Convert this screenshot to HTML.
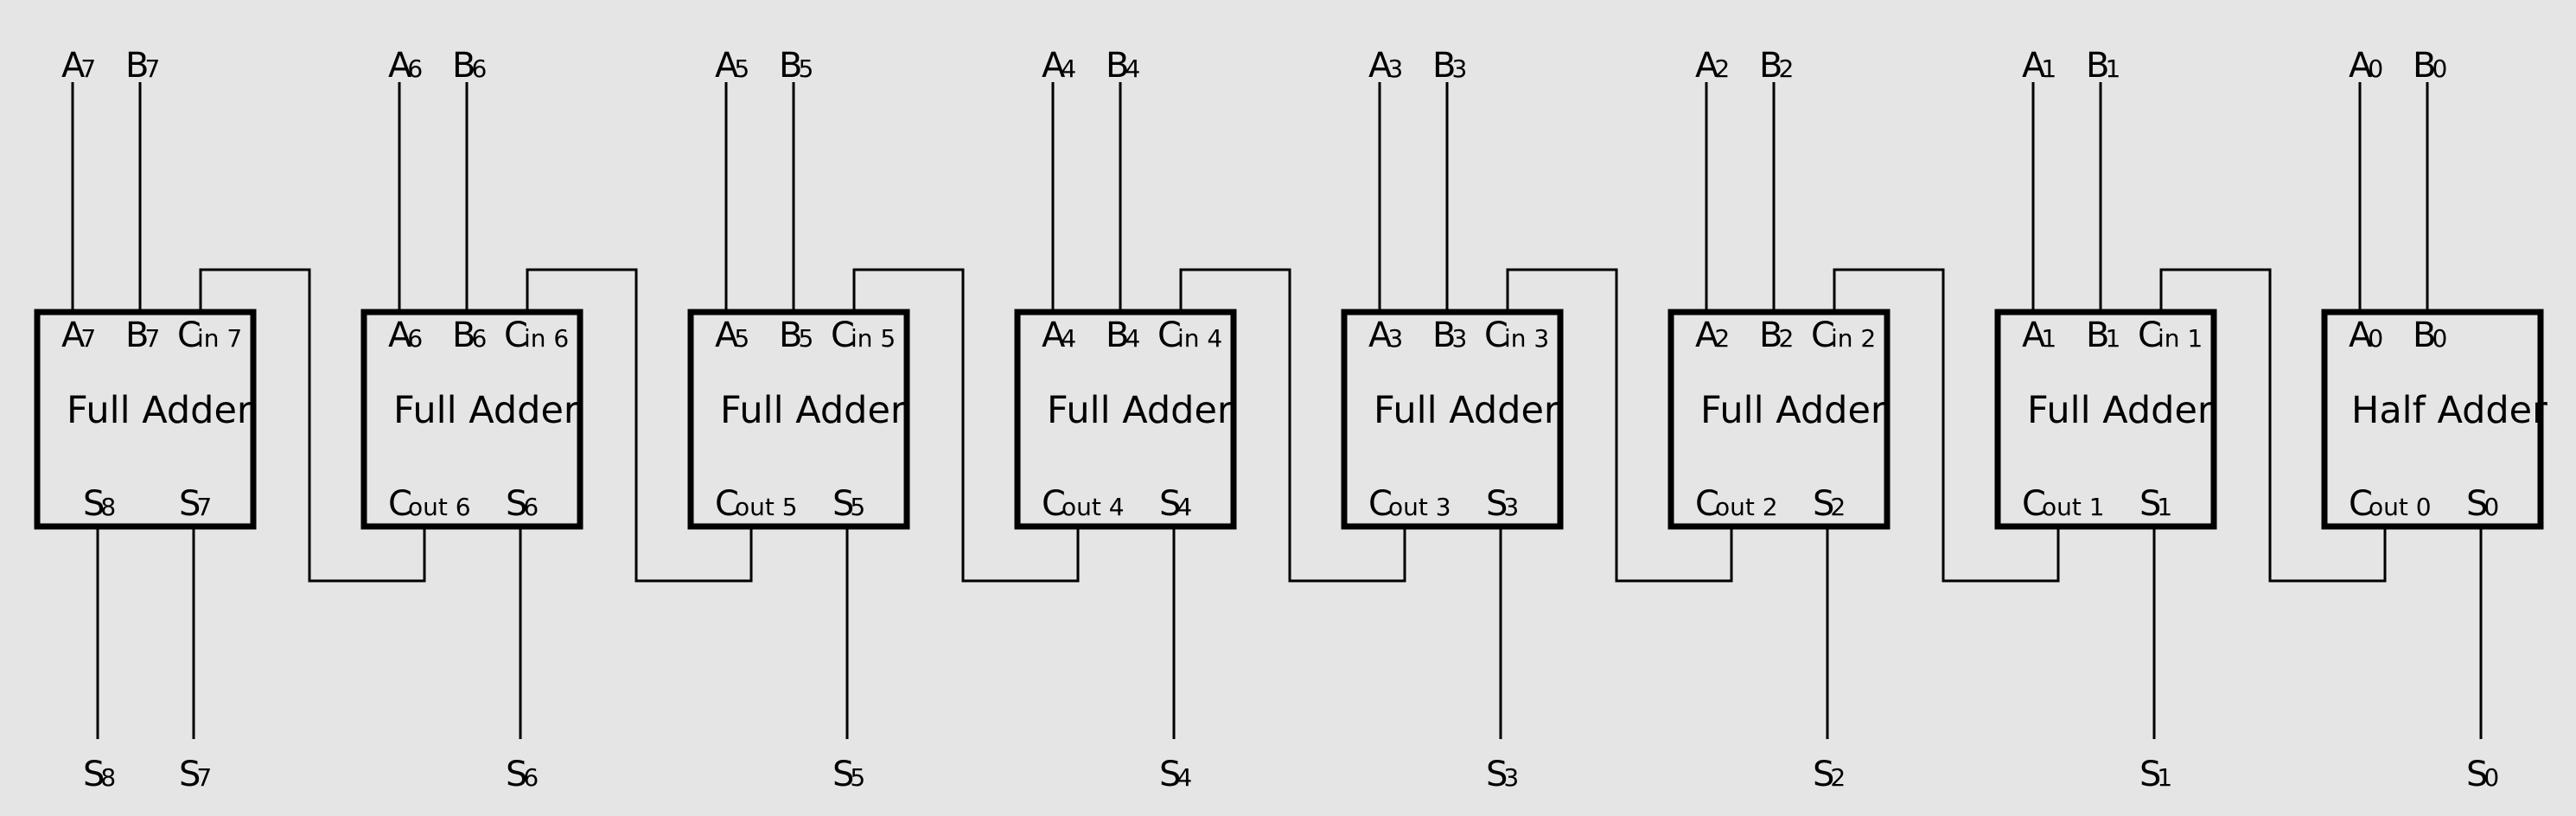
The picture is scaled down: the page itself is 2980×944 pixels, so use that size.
<!DOCTYPE html>
<html><head><meta charset="utf-8">
<style>
html,body{margin:0;padding:0;background:#e5e5e5;}
svg{display:block;}
text{font-family:"DejaVu Sans","Liberation Sans",sans-serif;fill:#000;}
</style></head>
<body>
<svg id="svg" width="2980" height="944" viewBox="0 0 2980 944" xmlns="http://www.w3.org/2000/svg">
<rect x="0" y="0" width="2980" height="944" fill="#e5e5e5"/>
</svg>
<script>
const bits = [7,6,5,4,3,2,1,0];
const adderTypes = ["Full Adder","Full Adder","Full Adder","Full Adder","Full Adder","Full Adder","Full Adder","Half Adder"];
const NS = "http://www.w3.org/2000/svg";
const svg = document.getElementById('svg');
const X0 = 40, PITCH = 378, BW = 256, BT = 358, BB = 612;
function mk(tag, attrs, parent){
  const e = document.createElementNS(NS, tag);
  for (const k in attrs) e.setAttribute(k, attrs[k]);
  (parent||svg).appendChild(e);
  return e;
}
function line(x1,y1,x2,y2,name,w){
  const e = mk('polyline',{points:x1+','+y1+' '+x2+','+y2,fill:'none',stroke:'#000','stroke-width':w||3});
  
  
  return e;
}
function label(x,y,main,sub,size,subsize,name){
  const t = mk('text',{x:x,y:y,'font-size':size});
  
  
  t.appendChild(document.createTextNode(main));
  const s = mk('tspan',{'font-size':subsize,dx:-5},t);
  s.textContent = sub;
  return t;
}
bits.forEach((n,k)=>{
  const L = X0 + PITCH*k;
  const half = adderTypes[k] === "Half Adder";
  const g = mk('g',{});
  
  
  const r = mk('rect',{x:L+3,y:BT+3,width:BW-6,height:BB-BT-6,fill:'none',stroke:'#000','stroke-width':7},g);
  
  
  line(L+44,95,L+44,BT,'wire-a'+n);
  line(L+122,95,L+122,BT,'wire-b'+n);
  label(L+31,89,'A',String(n),40,28,'input-label-a'+n);
  label(L+105,89,'B',String(n),40,28,'input-label-b'+n);
  label(L+31,401,'A',String(n),40,28,'port-a'+n);
  label(L+105,401,'B',String(n),40,28,'port-b'+n);
  const title = mk('text',{x:L+(half?34:37),y:489,'font-size':43},g);
  
  
  title.textContent = adderTypes[k];
  if(!half){
    label(L+165,401,'C','in '+n,40,28,'port-cin'+n);
    const nx = L + PITCH;
    const p = mk('polyline',{points:[ [L+192,BT],[L+192,312],[L+318,312],[L+318,672],[nx+73,672],[nx+73,BB] ].map(a=>a.join(',')).join(' '),fill:'none',stroke:'#000','stroke-width':3});
    
    
  }
  if(k===0){
    label(L+56,596,'S','8',40,28,'port-s8');
    label(L+167,596,'S','7',40,28,'port-s7');
    line(L+73,BB,L+73,855,'wire-s8');
    line(L+184,BB,L+184,855,'wire-s7');
    label(L+56,909,'S','8',40,28,'output-label-s8');
    label(L+167,909,'S','7',40,28,'output-label-s7');
  } else {
    label(L+31,596,'C','out '+n,40,28,'port-cout'+n);
    label(L+167,596,'S',String(n),40,28,'port-s'+n);
    line(L+184,BB,L+184,855,'wire-s'+n);
    label(L+167,909,'S',String(n),40,28,'output-label-s'+n);
  }
});
</script>
</body></html>
